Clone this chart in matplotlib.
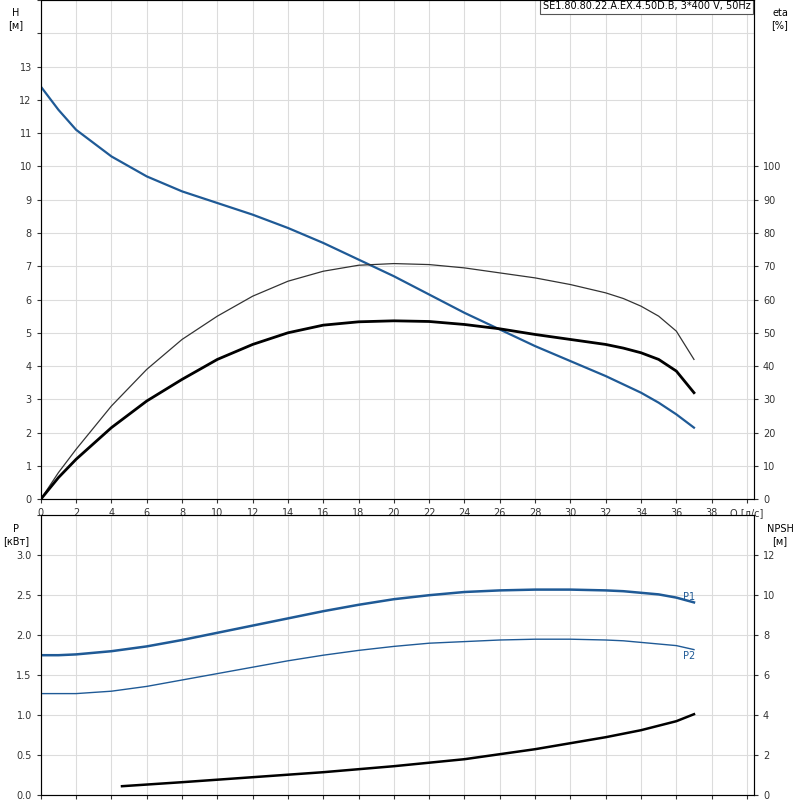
import numpy as np
import matplotlib.pyplot as plt

# data
q = [0, 1, 2, 4, 6, 8, 10, 12, 14, 16, 18, 20, 22, 24, 26, 28, 30, 32, 33, 34, 35, 36, 37]
head = [12.4, 11.7, 11.1, 10.3, 9.7, 9.25, 8.9, 8.55, 8.15, 7.7, 7.2, 6.7, 6.15, 5.6, 5.1, 4.6, 4.15, 3.7, 3.45, 3.2, 2.9, 2.55, 2.15]
eta_pump = [0, 8, 15, 28, 39, 48, 55, 61, 65.5, 68.5, 70.3, 70.8, 70.5, 69.5, 68, 66.5, 64.5, 62, 60.3, 58, 55, 50.5, 42]
eta_total = [0, 6.5, 12, 21.5, 29.5, 36, 42, 46.5, 50, 52.3, 53.3, 53.6, 53.4, 52.5, 51.2, 49.5, 48, 46.5, 45.4, 44, 42, 38.5, 32]
p1 = [1.75, 1.75, 1.76, 1.8, 1.86, 1.94, 2.03, 2.12, 2.21, 2.3, 2.38, 2.45, 2.5, 2.54, 2.56, 2.57, 2.57, 2.56, 2.55, 2.53, 2.51, 2.47, 2.41]
p2 = [1.27, 1.27, 1.27, 1.3, 1.36, 1.44, 1.52, 1.6, 1.68, 1.75, 1.81, 1.86, 1.9, 1.92, 1.94, 1.95, 1.95, 1.94, 1.93, 1.91, 1.89, 1.87, 1.82]
q_npsh = [4.6, 8, 12, 16, 20, 24, 28, 32, 34, 36, 37]
npsh = [0.45, 0.65, 0.9, 1.15, 1.45, 1.8, 2.3, 2.9, 3.25, 3.7, 4.05]

blue = '#1f5a96'
grid = '#dcdcdc'
fs = 7

fig = plt.figure(figsize=(8, 8), dpi=100)
ax = fig.add_axes([0.051, 0.376, 0.8915, 0.624])
ax2 = ax.twinx()
bx = fig.add_axes([0.051, 0.006, 0.8915, 0.35])
bx2 = bx.twinx()

xmax = 40.4
for a in (ax, bx):
    a.set_xlim(0, xmax)
    a.set_xticks(range(0, 42, 2))
    a.grid(True, color=grid, lw=0.8)
    a.set_axisbelow(True)
    for s in a.spines.values():
        s.set_color('#555555')
    a.tick_params(labelsize=fs, length=3, colors='#333333')

ax.set_ylim(0, 15)
ax.set_yticks(range(0, 16))
ax.set_yticklabels([str(i) if i <= 13 else '' for i in range(16)])
ax.set_xticklabels([str(i) for i in range(0, 40, 2)] + ['Q [л/с]'])
ax2.set_ylim(0, 150)
ax2.set_yticks(range(0, 110, 10))
ax2.tick_params(labelsize=fs, length=3, colors='#333333')

bx.set_ylim(0, 3.5)
bx.set_yticks(np.arange(0, 3.51, 0.5))
bx.set_yticklabels(['0.0', '0.5', '1.0', '1.5', '2.0', '2.5', '3.0', ''])
bx.set_xticklabels([])
bx2.set_ylim(0, 14)
bx2.set_yticks(range(0, 14, 2))
bx2.tick_params(labelsize=fs, length=3, colors='#333333')

ax.plot(q, head, color=blue, lw=1.6)
ax2.plot(q, eta_pump, color='#333333', lw=0.9)
ax2.plot(q, eta_total, color='black', lw=2.0)

bx.plot(q, p1, color=blue, lw=1.8)
bx.plot(q, p2, color=blue, lw=1.0)
bx2.plot(q_npsh, npsh, color='black', lw=1.8)
bx.text(q[-1] - 0.6, p1[-1] + 0.03, 'P1', color=blue, fontsize=fs)
bx.text(q[-1] - 0.6, p2[-1] - 0.12, 'P2', color=blue, fontsize=fs)

fig.text(0.02, 0.99, 'H\n[м]', fontsize=fs, ha='center', va='top')
fig.text(0.975, 0.99, 'eta\n[%]', fontsize=fs, ha='center', va='top')
fig.text(0.02, 0.345, 'P\n[кВт]', fontsize=fs, ha='center', va='top')
fig.text(0.975, 0.345, 'NPSH\n[м]', fontsize=fs, ha='center', va='top')
ax.text(0.995, 0.997, 'SE1.80.80.22.A.EX.4.50D.B, 3*400 V, 50Hz', transform=ax.transAxes,
        fontsize=fs, ha='right', va='top',
        bbox=dict(facecolor='white', edgecolor='#555555', pad=2, lw=0.8))

fig.savefig('out.png', dpi=100)
